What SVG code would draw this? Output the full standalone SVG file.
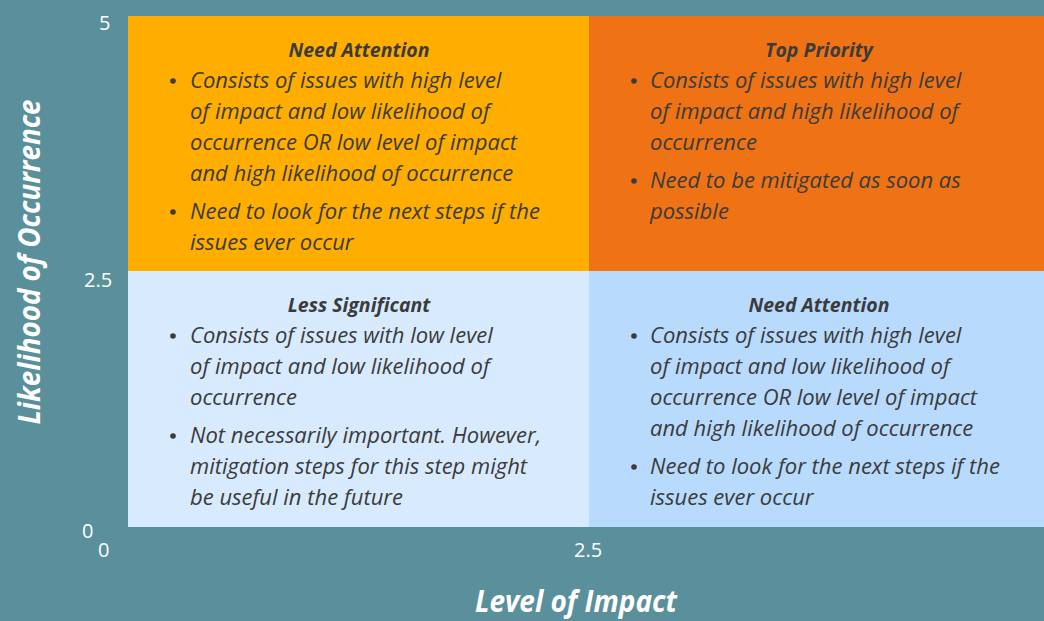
<svg xmlns="http://www.w3.org/2000/svg" width="1044" height="621" viewBox="0 0 1044 621">
<style>
.t{font-family:"Open Sans","Noto Sans",sans-serif;font-style:italic;font-size:22px;fill:#3b3b3b}
.h{font-family:"Open Sans","Noto Sans",sans-serif;font-style:italic;font-weight:bold;font-size:19.5px;fill:#3b3b3b;text-anchor:middle}
.tick{font-family:"Open Sans","Noto Sans",sans-serif;font-size:20px;fill:#ffffff;font-weight:400}
.ax{font-family:"Open Sans","Noto Sans",sans-serif;font-style:italic;font-weight:bold;font-size:30px;fill:#ffffff}
.b{fill:#3b3b3b}
</style>
<rect width="1044" height="621" fill="#5a909b"/>
<g id="q-top-left">
<rect x="128" y="16" width="461" height="255" fill="#ffae00"/>
<text class="h" x="359" y="57">Need Attention</text>
<circle class="b" cx="173" cy="81" r="2.8"/>
<text class="t" x="190" y="88">Consists of issues with high level</text>
<text class="t" x="190" y="119">of impact and low likelihood of</text>
<text class="t" x="190" y="150">occurrence OR low level of impact</text>
<text class="t" x="190" y="181">and high likelihood of occurrence</text>
<circle class="b" cx="173" cy="212" r="2.8"/>
<text class="t" x="190" y="219">Need to look for the next steps if the</text>
<text class="t" x="190" y="250">issues ever occur</text>
</g>
<g id="q-top-right">
<rect x="589" y="16" width="455" height="255" fill="#ef7314"/>
<text class="h" x="819" y="57">Top Priority</text>
<circle class="b" cx="634" cy="81" r="2.8"/>
<text class="t" x="650" y="88">Consists of issues with high level</text>
<text class="t" x="650" y="119">of impact and high likelihood of</text>
<text class="t" x="650" y="150">occurrence</text>
<circle class="b" cx="634" cy="181" r="2.8"/>
<text class="t" x="650" y="188">Need to be mitigated as soon as</text>
<text class="t" x="650" y="219">possible</text>
</g>
<g id="q-bottom-left">
<rect x="128" y="271" width="461" height="256" fill="#d8eafe"/>
<text class="h" x="359" y="312">Less Significant</text>
<circle class="b" cx="173" cy="336" r="2.8"/>
<text class="t" x="190" y="343">Consists of issues with low level</text>
<text class="t" x="190" y="374">of impact and low likelihood of</text>
<text class="t" x="190" y="405">occurrence</text>
<circle class="b" cx="173" cy="436" r="2.8"/>
<text class="t" x="190" y="443">Not necessarily important. However,</text>
<text class="t" x="190" y="474">mitigation steps for this step might</text>
<text class="t" x="190" y="505">be useful in the future</text>
</g>
<g id="q-bottom-right">
<rect x="589" y="271" width="455" height="256" fill="#b8dafd"/>
<text class="h" x="819" y="312">Need Attention</text>
<circle class="b" cx="634" cy="336" r="2.8"/>
<text class="t" x="650" y="343">Consists of issues with high level</text>
<text class="t" x="650" y="374">of impact and low likelihood of</text>
<text class="t" x="650" y="405">occurrence OR low level of impact</text>
<text class="t" x="650" y="436">and high likelihood of occurrence</text>
<circle class="b" cx="634" cy="467" r="2.8"/>
<text class="t" x="650" y="474">Need to look for the next steps if the</text>
<text class="t" x="650" y="505">issues ever occur</text>
</g>
<g id="axes">
<text class="tick" x="99" y="30">5</text>
<text class="tick" x="84" y="287">2.5</text>
<text class="tick" x="82" y="538">0</text>
<text class="tick" x="98" y="557">0</text>
<text class="tick" x="574" y="557">2.5</text>
<text class="ax" x="576" y="612" text-anchor="middle" textLength="202" lengthAdjust="spacingAndGlyphs">Level of Impact</text>
<text class="ax" transform="translate(40,262) rotate(-90)" x="0" y="0" text-anchor="middle" textLength="325" lengthAdjust="spacingAndGlyphs">Likelihood of Occurrence</text>
</g>
</svg>
